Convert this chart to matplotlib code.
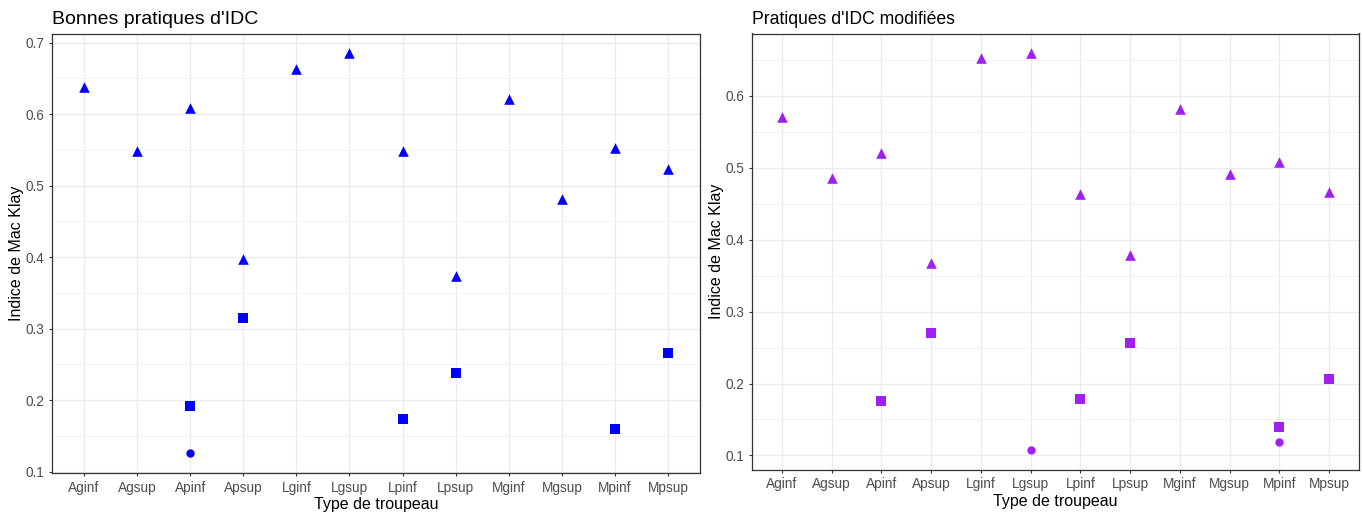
import numpy as np
import matplotlib.pyplot as plt
from matplotlib.ticker import MultipleLocator

plt.rcParams['font.family'] = ['Liberation Sans', 'DejaVu Sans']

categories = ['Aginf', 'Agsup', 'Apinf', 'Apsup', 'Lginf', 'Lgsup',
              'Lpinf', 'Lpsup', 'Mginf', 'Mgsup', 'Mpinf', 'Mpsup']
nan = np.nan

# Bonnes pratiques d'IDC
left_tri = [0.638, 0.548, 0.609, 0.397, 0.663, 0.685,
            0.548, 0.374, 0.621, 0.482, 0.553, 0.524]
left_sq = [nan, nan, 0.192, 0.315, nan, nan,
           0.174, 0.238, nan, nan, 0.160, 0.266]
left_circ = [nan, nan, 0.126, nan, nan, nan,
             nan, nan, nan, nan, nan, nan]

# Pratiques d'IDC modifiées
right_tri = [0.571, 0.486, 0.520, 0.368, 0.653, 0.659,
             0.463, 0.379, 0.582, 0.491, 0.508, 0.466]
right_sq = [nan, nan, 0.176, 0.270, nan, nan,
            0.178, 0.256, nan, nan, 0.139, 0.206]
right_circ = [nan, nan, nan, nan, nan, 0.108,
              nan, nan, nan, nan, 0.118, nan]

fig = plt.figure(figsize=(13.62, 5.15), dpi=100)
ax1 = fig.add_axes([52 / 1362, 1 - 473 / 515, 648 / 1362, 439.5 / 515])
ax2 = fig.add_axes([752 / 1362, 1 - 469.5 / 515, 607 / 1362, 436 / 515])


def draw(ax, tri, sq, circ, color, title, title_size, yticks):
    x = np.arange(len(categories))
    ax.scatter(x, tri, marker='^', s=58, color=color, linewidths=0, zorder=3)
    ax.scatter(x, sq, marker='s', s=42, color=color, linewidths=0, zorder=3)
    ax.scatter(x, circ, marker='o', s=36, color=color, linewidths=0, zorder=3)

    allv = np.array(tri + sq + circ, dtype=float)
    lo, hi = np.nanmin(allv), np.nanmax(allv)
    pad = (hi - lo) * 0.05
    ax.set_ylim(lo - pad, hi + pad)
    ax.set_xlim(-0.6, len(categories) - 0.4)

    ax.set_xticks(x)
    ax.set_xticklabels(categories)
    ax.set_yticks(yticks)
    ax.set_yticklabels(['%.1f' % v for v in yticks])
    ax.yaxis.set_minor_locator(MultipleLocator(0.05))

    ax.grid(True, which='major', color='#EBEBEB', linewidth=1.0, zorder=0)
    ax.grid(True, which='minor', axis='y', color='#F3F3F3', linewidth=0.7, zorder=0)
    ax.set_axisbelow(True)
    ax.tick_params(axis='both', which='major', length=2.5, width=0.8,
                   color='#333333', labelcolor='#4D4D4D', labelsize=9.8, pad=3)
    ax.tick_params(axis='y', which='minor', length=0)
    for sp in ax.spines.values():
        sp.set_color('#333333')
        sp.set_linewidth(0.9)

    ax.set_xlabel('Type de troupeau', fontsize=11.5, color='black', labelpad=2)
    ax.set_ylabel('Indice de Mac Klay', fontsize=11.5, color='black', labelpad=1)
    ax.set_title(title, fontsize=title_size, loc='left', pad=7, color='black')


draw(ax1, left_tri, left_sq, left_circ, '#0000FF', "Bonnes pratiques d'IDC", 14,
     [0.1, 0.2, 0.3, 0.4, 0.5, 0.6, 0.7])
draw(ax2, right_tri, right_sq, right_circ, '#A020F0', "Pratiques d'IDC modifiées", 12.7,
     [0.1, 0.2, 0.3, 0.4, 0.5, 0.6])

fig.savefig('out.png', dpi=100)
